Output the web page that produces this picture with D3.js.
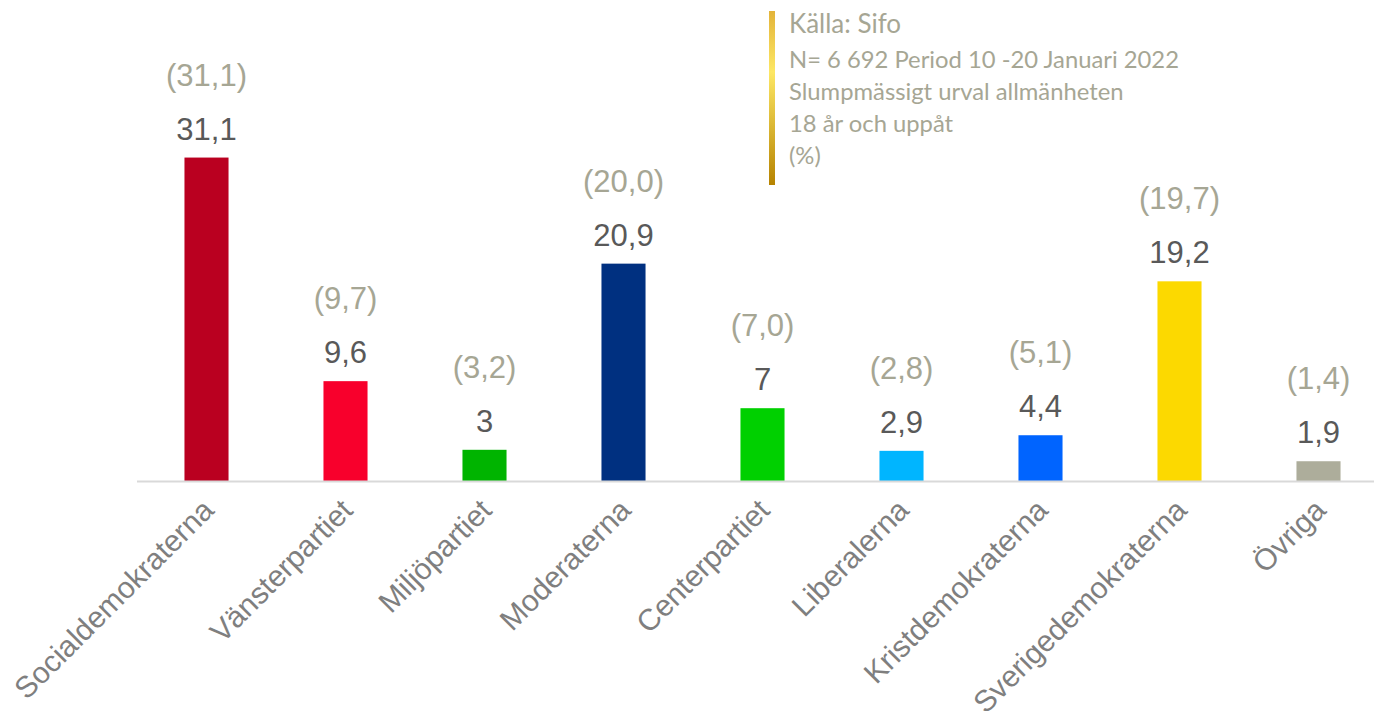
<!DOCTYPE html>
<html>
<head>
<meta charset="utf-8">
<script src="https://cdn.jsdelivr.net/npm/d3@7"></script>
<style>
  body { margin: 0; background: #ffffff; }
  svg { display: block; }
</style>
</head>
<body>
<div id="chart"></div>
<script>
// Data
var parties = ["Socialdemokraterna", "Vänsterpartiet", "Miljöpartiet", "Moderaterna",
  "Centerpartiet", "Liberalerna", "Kristdemokraterna", "Sverigedemokraterna", "Övriga"];
var current = [31.1, 9.6, 3, 20.9, 7, 2.9, 4.4, 19.2, 1.9];
var previous = [31.1, 9.7, 3.2, 20.0, 7.0, 2.8, 5.1, 19.7, 1.4];
var barColors = ["#ba0020", "#f8002c", "#00b400", "#003080", "#00d000",
  "#00b5ff", "#0064ff", "#fcd900", "#adad9b"];
var sourceLines = ["Källa: Sifo", "N= 6 692 Period 10 -20 Januari 2022",
  "Slumpmässigt urval allmänheten", "18 år och uppåt", "(%)"];

var width = 1374;
var height = 711;

var svg = d3.select("#chart").append("svg")
  .attr("width", width)
  .attr("height", height);

// Scales
var x = d3.scaleBand().domain(parties).range([137, 1388]).padding(0);
var y = d3.scaleLinear().domain([0, 35]).range([481, 117]);
var barWidth = x.bandwidth() * 0.317;

// Number formatting with decimal comma
var fmt = function(v) { return String(v).replace(".", ","); };
var fmtPrev = function(v) { return "(" + v.toFixed(1).replace(".", ",") + ")"; };

// Bars
svg.selectAll("rect.bar")
  .data(current)
  .enter()
  .append("rect")
  .attr("class", "bar")
  .attr("x", function(d, i) { return x(parties[i]) + x.bandwidth() / 2 - barWidth / 2; })
  .attr("y", function(d) { return y(d); })
  .attr("width", barWidth)
  .attr("height", function(d) { return y(0) - y(d); })
  .attr("fill", function(d, i) { return barColors[i]; });

// Category axis line
svg.append("line")
  .attr("x1", x.range()[0]).attr("x2", x.range()[1])
  .attr("y1", y(0) + 0.5).attr("y2", y(0) + 0.5)
  .attr("stroke", "#d9d9d9")
  .attr("stroke-width", 2);

// Value labels
svg.selectAll("text.val")
  .data(current)
  .enter()
  .append("text")
  .attr("class", "val")
  .attr("x", function(d, i) { return x(parties[i]) + x.bandwidth() / 2; })
  .attr("y", function(d) { return y(d) - 18; })
  .attr("text-anchor", "middle")
  .attr("font-family", "Liberation Sans, Arial, sans-serif")
  .attr("font-size", 31)
  .attr("fill", "#595959")
  .text(fmt);

// Previous values in parentheses
svg.selectAll("text.prev")
  .data(previous)
  .enter()
  .append("text")
  .attr("class", "prev")
  .attr("x", function(d, i) { return x(parties[i]) + x.bandwidth() / 2; })
  .attr("y", function(d, i) { return y(current[i]) - 72; })
  .attr("text-anchor", "middle")
  .attr("font-family", "Liberation Sans, Arial, sans-serif")
  .attr("font-size", 31)
  .attr("fill", "#a6a694")
  .text(fmtPrev);

// Rotated category labels
svg.selectAll("text.cat")
  .data(parties)
  .enter()
  .append("text")
  .attr("class", "cat")
  .attr("transform", function(d) {
    return "translate(" + (x(d) + x.bandwidth() / 2 + 9) + "," + (y(0) + 31) + ") rotate(-45)";
  })
  .attr("text-anchor", "end")
  .attr("font-family", "Liberation Sans, Arial, sans-serif")
  .attr("font-size", 30)
  .attr("fill", "#7f7f7f")
  .text(function(d) { return d; });

// Source box with gold gradient bar
var grad = svg.append("defs").append("linearGradient")
  .attr("id", "gold")
  .attr("x1", 0).attr("y1", 0).attr("x2", 0).attr("y2", 1);
grad.append("stop").attr("offset", "0%").attr("stop-color", "#e3b43a");
grad.append("stop").attr("offset", "35%").attr("stop-color", "#fde764");
grad.append("stop").attr("offset", "100%").attr("stop-color", "#b68300");

svg.append("rect")
  .attr("x", 769).attr("y", 11)
  .attr("width", 6).attr("height", 174)
  .attr("fill", "url(#gold)");

svg.selectAll("text.src")
  .data(sourceLines)
  .enter()
  .append("text")
  .attr("class", "src")
  .attr("x", 789)
  .attr("y", function(d, i) { return i == 0 ? 33 : 36 + i * 32; })
  .attr("font-family", "Lato, sans-serif")
  .attr("font-size", function(d, i) { return i == 0 ? 26 : 23.8; })
  .attr("fill", "#a6a694")
  .text(function(d) { return d; });
</script>
</body>
</html>
